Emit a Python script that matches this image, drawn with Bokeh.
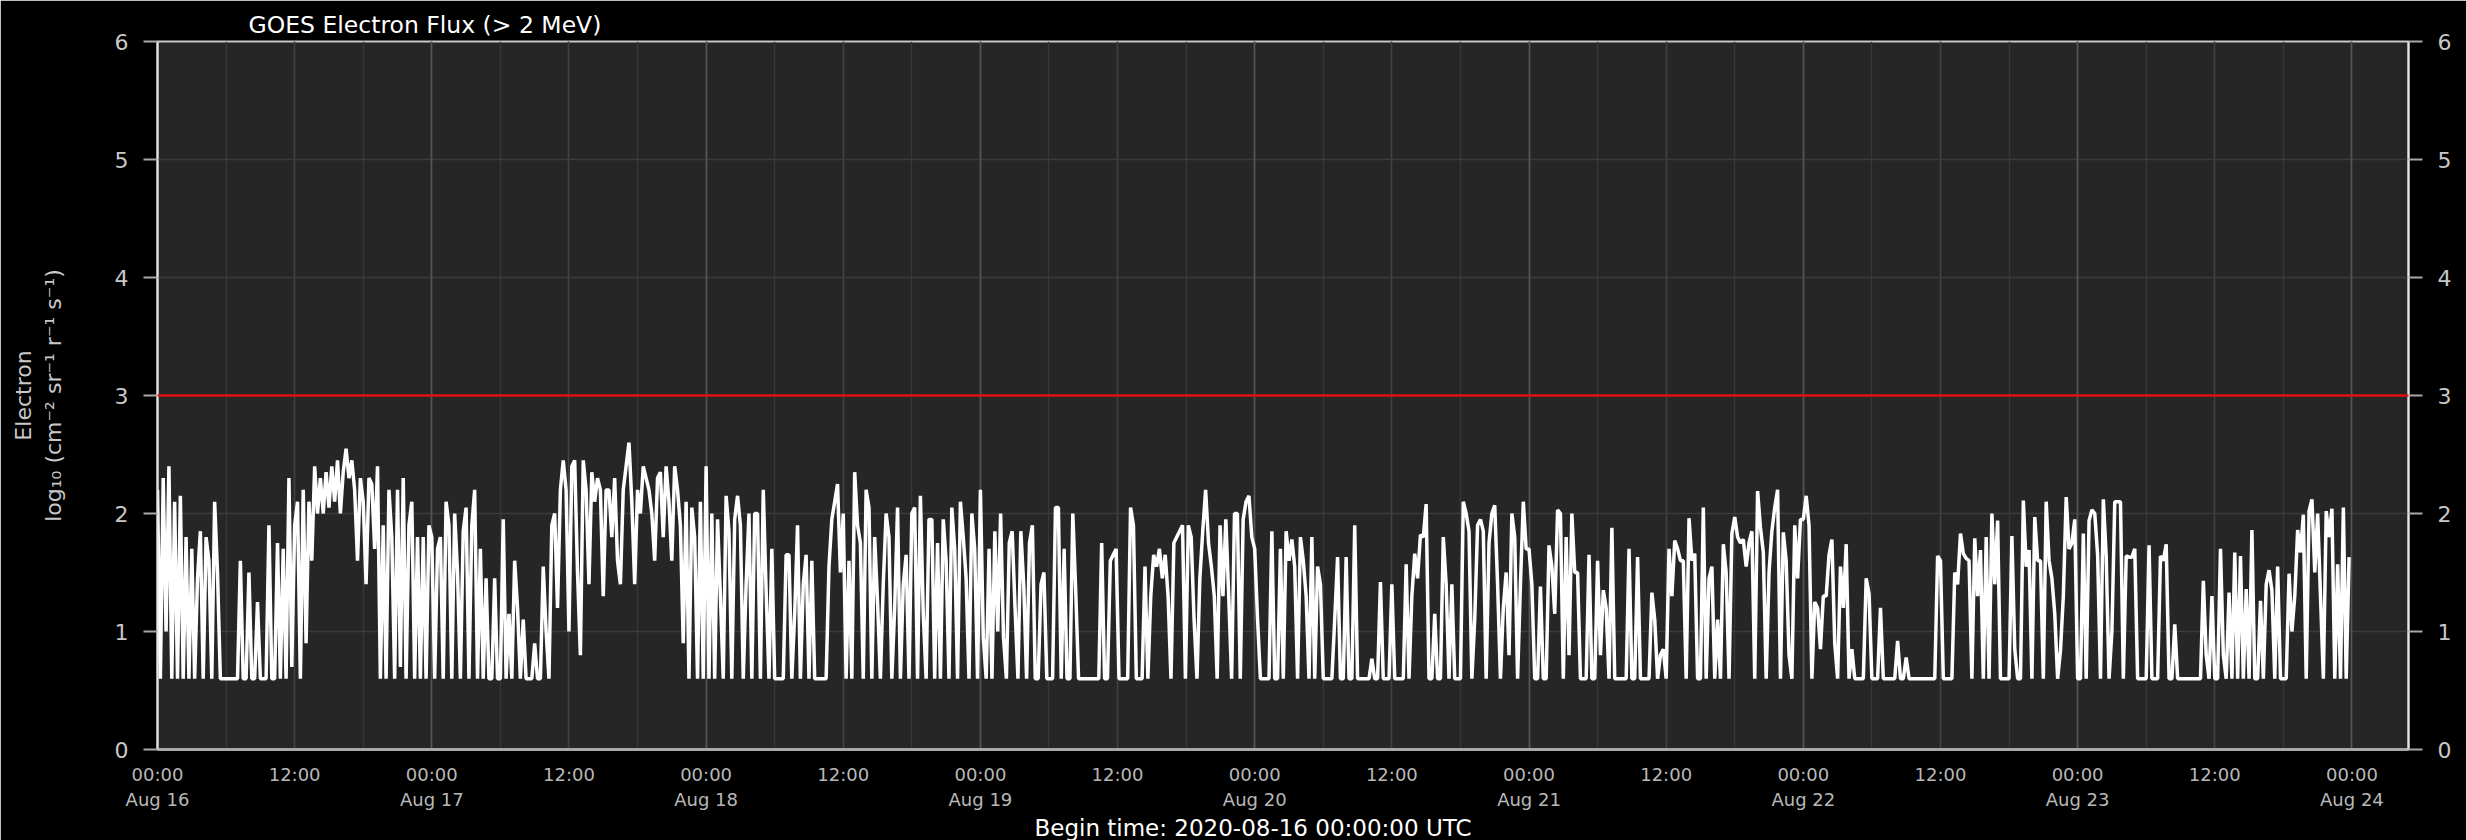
from datetime import datetime, timedelta, timezone

from bokeh.plotting import figure
from bokeh.models import FixedTicker, LinearAxis, Range1d, Span, Title, Grid
from bokeh.embed import file_html
from bokeh.resources import INLINE

# ---------------- data (log10 electron flux, 15-minute samples) -------------
day_starts = ["2020-08-16", "2020-08-17", "2020-08-18", "2020-08-19",
              "2020-08-20", "2020-08-21", "2020-08-22", "2020-08-23"]

flux_aug16 = [2.2, 0.6, 2.3, 1.0, 2.4, 0.6, 2.1, 0.6,
              2.15, 0.6, 1.8, 0.6,
              1.7, 0.6, 1.45, 1.85, 0.6, 1.8, 1.6, 0.6, 2.1, 1.5,
              0.6, 0.6, 0.6, 0.6, 0.6, 0.6, 0.6,
              1.6, 0.6, 0.6, 1.5, 0.6, 0.6, 1.25, 0.6, 0.6, 0.6, 1.9, 0.6, 0.6, 1.75, 0.6, 1.7, 0.6,
              2.3, 0.7, 1.9, 2.1, 0.6, 2.2, 0.9, 2.1, 1.6,
              2.4, 2.0, 2.3, 2.0, 2.35, 2.05, 2.4, 2.1, 2.45, 2.0, 2.35, 2.55, 2.3, 2.45, 2.2,
              1.6, 2.3, 2.1, 1.4, 2.3, 2.25, 1.7, 2.4,
              0.6, 1.9, 0.6, 2.2, 1.8, 0.6, 2.2, 0.7, 2.3, 0.6, 1.9, 2.1, 0.6, 1.8, 0.6, 1.8, 0.6, 1.9]

flux_aug17 = [1.8, 0.6, 1.7, 1.8, 0.6, 2.1, 1.9, 0.6, 2.0, 1.5, 0.6, 1.85, 2.05, 0.6, 1.9, 2.2, 0.6, 1.7, 0.6,
              1.45, 0.6, 0.6, 1.45, 0.6, 0.6, 1.95, 0.6, 1.15, 0.6, 1.6, 1.2, 0.6, 1.1, 0.6, 0.6, 0.6, 0.9,
              0.6, 0.6, 1.55, 1.0, 0.6,
              1.9, 2.0, 1.2, 2.2, 2.45, 2.2, 1.0, 2.4, 2.45, 1.5, 0.8, 2.45, 2.2, 1.4, 2.35, 2.1, 2.3, 2.2,
              1.3, 2.2,
              2.2, 1.8, 2.3, 1.6, 1.4, 2.2, 2.4, 2.6, 2.1, 1.4, 2.2, 2.0, 2.4, 2.3, 2.2, 2.0, 1.6, 2.3,
              2.35, 1.8, 2.4, 2.1, 1.6, 2.4, 2.2, 1.9, 0.9, 2.1, 0.6, 2.05, 1.8, 0.6, 2.1, 0.6]

flux_aug18 = [2.4, 0.6, 2.0, 0.6, 1.95, 1.3, 0.6, 2.15, 1.85, 0.6, 1.95, 2.15, 1.9, 0.6, 1.4, 2.0,
              0.6, 2.0, 2.0, 0.6, 2.2, 1.35, 0.6, 1.7, 0.6, 0.6, 0.6, 0.6, 1.65, 1.65, 0.6, 1.15,
              1.9, 0.6, 1.4, 1.65, 0.6, 1.6, 0.6, 0.6, 0.6, 0.6, 0.6, 1.55, 1.95, 2.1, 2.25, 1.5,
              2.0, 0.6, 1.6, 0.6, 2.35, 1.9, 1.75, 0.6, 2.2, 2.05, 0.6, 1.8, 1.25, 0.6, 1.4, 2.0,
              1.8, 0.6, 1.2, 2.05, 0.6, 1.4, 1.65, 0.6, 2.0, 2.05, 0.6, 2.15, 1.15, 0.6, 1.95, 1.95,
              0.6, 1.75, 0.6, 1.95, 1.6, 0.6, 2.05, 1.7, 0.6, 2.1, 1.8, 1.45, 0.6, 2.0, 1.7, 0.6]

flux_aug19 = [2.2, 0.95, 0.6, 1.7, 0.6, 1.85, 1.0, 2.0, 0.95, 0.6, 1.75, 1.85, 1.2, 0.6, 1.85, 1.4,
              0.6, 1.75, 1.9, 0.6, 0.6, 1.4, 1.5, 0.6, 0.6, 0.6, 2.05,
              2.05, 0.6, 1.7, 0.6, 0.6, 2.0, 1.35, 0.6, 0.6, 0.6, 0.6, 0.6, 0.6, 0.6, 0.6, 1.75,
              0.6, 0.6, 1.6, 1.65, 1.7, 0.6, 0.6, 0.6, 0.6, 2.05, 1.9, 0.6, 0.6, 0.6, 1.55, 0.6,
              1.3, 1.65, 1.55, 1.7, 1.45, 1.65, 1.3, 0.6, 1.75, 1.8, 1.85, 1.9, 0.6, 1.9, 1.8, 1.1,
              0.6, 1.45, 1.85, 2.2, 1.75, 1.55, 1.3, 0.6, 1.9, 1.3, 1.95, 1.3, 0.6, 2.0, 2.0, 0.6,
              1.95, 2.1, 2.15, 1.8]

flux_aug20 = [1.7, 1.1, 0.6, 0.6, 0.6, 0.6, 1.85, 0.6, 0.6, 1.7, 0.6, 1.85, 1.6, 1.78, 1.55, 0.6,
              1.8, 1.6, 1.3, 0.6, 1.8, 0.6, 1.55, 1.4, 0.6, 0.6, 0.6, 0.6, 1.1, 1.63, 0.6, 0.6,
              1.63, 0.6, 0.6, 1.9, 0.6, 0.6, 0.6, 0.6, 0.6, 0.77, 0.6, 0.6, 1.42, 0.6, 0.6, 0.6,
              1.4, 0.6, 0.6, 0.6, 0.6, 1.57, 0.6, 1.3, 1.66, 1.45, 1.82, 1.8, 2.08, 0.6, 0.6, 1.15,
              0.6, 0.6, 1.8, 1.4, 0.6, 1.4, 0.6, 0.6, 0.6, 2.1, 2.0, 1.85, 0.6, 1.1, 1.9, 1.95,
              1.85, 0.6, 1.75, 2.0, 2.07, 1.4, 0.6, 1.2, 1.5,
              0.8, 2.0, 1.8, 0.6, 1.4, 2.1, 1.7]

flux_aug21 = [1.7, 1.4, 0.6, 0.6, 1.38, 0.6, 0.6, 1.73, 1.55, 1.15, 2.03, 2.0, 0.6, 1.8, 0.8, 2.0,
              1.5, 1.5, 0.6, 0.6, 0.6, 1.65, 0.6, 0.6, 1.6, 0.8, 1.35, 1.2, 0.6, 1.88, 0.6, 0.6,
              0.6, 0.6, 0.6, 1.7, 0.6, 0.6, 1.63, 0.6, 0.6, 0.6, 0.6, 1.33, 1.1, 0.6, 0.8, 0.85,
              0.6, 1.7, 1.3, 1.77, 1.7, 1.6, 1.6, 0.6, 1.96, 1.6, 1.66, 0.6, 0.6, 2.05, 0.6, 1.45,
              1.55, 0.6, 1.1, 0.6, 1.74, 1.5, 0.6, 1.83, 1.97, 1.8, 1.75, 1.78, 1.55, 1.75, 1.85, 0.6,
              2.19, 1.88, 1.67, 0.6, 1.5, 1.85, 2.05, 2.2, 0.6, 1.84, 1.6, 0.8, 0.6, 1.9, 1.45, 1.95]

flux_aug22 = [1.95, 2.15, 1.9, 0.6, 1.25, 1.2, 0.85, 1.3, 1.3, 1.65, 1.78, 0.9, 0.6, 1.55, 1.2, 1.74,
              0.6, 0.85, 0.6, 0.6, 0.6, 0.6, 1.45, 1.32, 0.6, 0.6, 0.6, 1.2, 0.6, 0.6, 0.6, 0.6,
              0.6, 0.92, 0.6, 0.6, 0.78, 0.6, 0.6, 0.6, 0.6, 0.6, 0.6, 0.6, 0.6, 0.6, 0.6, 1.64,
              1.6, 0.6, 0.6, 0.6, 0.6, 1.5,
              1.4, 1.83, 1.66, 1.62, 1.6, 0.6, 1.79, 1.3, 1.69, 0.6, 1.8, 0.6, 2.0, 1.4, 1.94, 0.6,
              0.6, 0.6, 0.6, 1.81, 0.85, 0.6, 0.6, 2.11, 1.55, 1.69, 0.6, 1.97, 1.6, 1.6, 0.6, 2.1,
              1.6, 1.45, 1.15, 0.6, 0.84, 1.3, 2.14, 1.7, 1.75, 1.95]

flux_aug23 = [0.6, 0.6, 1.83, 0.6, 1.94, 2.03, 2.0, 1.65, 0.6, 2.12, 1.64, 0.6, 1.0, 2.1, 2.1, 2.1,
              0.6, 1.64, 1.63, 1.63, 1.7, 0.6, 0.6, 0.6, 0.6, 1.73, 0.6, 0.6, 0.6, 1.64, 1.6, 1.74,
              0.6, 0.6, 1.06, 0.6, 0.6, 0.6, 0.6, 0.6, 0.6, 0.6, 0.6, 0.6, 1.43, 0.8, 0.6, 1.3,
              0.6, 0.6, 1.7, 0.8, 0.6, 1.33, 0.6, 1.67, 0.6, 1.64, 0.6, 1.36, 0.6, 1.86, 0.6, 0.6,
              1.26, 0.6, 1.4, 1.52, 1.35, 0.6, 1.55, 0.6, 0.6, 0.6, 1.49, 1.0, 1.3, 1.86, 1.67, 1.99,
              0.6, 2.02, 2.12, 1.5, 2.0, 1.3, 0.6, 2.02, 1.8, 2.04, 0.6, 1.57, 0.6, 2.05, 0.6, 1.63]

daily_flux = [flux_aug16, flux_aug17, flux_aug18, flux_aug19,
              flux_aug20, flux_aug21, flux_aug22, flux_aug23]

threshold = 3
y_ticks = [0, 1, 2, 3, 4, 5, 6]
day_labels = ["Aug 16", "Aug 17", "Aug 18", "Aug 19", "Aug 20",
              "Aug 21", "Aug 22", "Aug 23", "Aug 24"]
title_text = "GOES Electron Flux (> 2 MeV)"
begin_text = "Begin time: 2020-08-16 00:00:00 UTC"
ylabel_text = "Electron\nlog\u2081\u2080 (cm\u207b\u00b2 sr\u207b\u00b9 r\u207b\u00b9 s\u207b\u00b9)"

# ---------------- build time series --------------------------------------------------------------
def to_ms(dt):
    return dt.timestamp() * 1000.0

xs, ys = [], []
for ds, vals in zip(day_starts, daily_flux):
    d0 = datetime.strptime(ds, "%Y-%m-%d").replace(tzinfo=timezone.utc)
    step = timedelta(hours=24) / len(vals)
    for j, v in enumerate(vals):
        xs.append(to_ms(d0 + j * step))
        ys.append(v)

t0 = datetime(2020, 8, 16, tzinfo=timezone.utc)
x_start = to_ms(t0)
x_end = to_ms(t0 + timedelta(days=8, hours=4, minutes=57))

major_ticks = [to_ms(t0 + timedelta(hours=12 * k)) for k in range(17)]
minor_ticks = [to_ms(t0 + timedelta(hours=6 * k)) for k in range(34)]
day_ticks = [to_ms(t0 + timedelta(days=k)) for k in range(9)]
overrides = {}
for k, t in enumerate(major_ticks):
    if k % 2 == 0:
        overrides[t] = "00:00\n" + day_labels[k // 2]
    else:
        overrides[t] = "12:00"

FONT = "DejaVu Sans"

p = figure(width=2466, height=840, x_axis_type="datetime",
           x_range=Range1d(x_start, x_end), y_range=Range1d(0, 6),
           output_backend="svg", toolbar_location=None,
           background_fill_color="#262626", border_fill_color="black",
           min_border_left=157, min_border_right=58, min_border_top=41, min_border_bottom=91)

p.outline_line_color = "#c8c8c8"
p.outline_line_width = 2

# title
p.title.text = title_text
p.title.align = "left"
p.title.offset = 91
p.title.text_color = "white"
p.title.text_font = FONT
p.title.text_font_size = "23.5px"
p.title.text_font_style = "normal"
p.title.standoff = 6

# x axis
xa = p.xaxis[0]
xa.ticker = FixedTicker(ticks=major_ticks, minor_ticks=minor_ticks)
xa.major_label_overrides = overrides
xa.major_label_text_color = "#b8b8b8"
xa.major_label_text_font = FONT
xa.major_label_text_font_size = "18px"
xa.major_label_standoff = 14
xa.major_tick_out = 0
xa.major_tick_in = 0
xa.minor_tick_out = 0
xa.minor_tick_in = 0
xa.axis_line_color = "#a8a8a8"
xa.axis_line_width = 3

# y axes
ya = p.yaxis[0]
ya.ticker = FixedTicker(ticks=y_ticks)
ya.axis_label = ylabel_text
ya.axis_label_text_color = "#c8c8c8"
ya.axis_label_text_font = FONT
ya.axis_label_text_font_size = "22px"
ya.axis_label_text_font_style = "normal"
ya.axis_label_standoff = 46

ra = LinearAxis(ticker=FixedTicker(ticks=y_ticks))
p.add_layout(ra, "right")
for ax in (ya, ra):
    ax.major_label_text_color = "#c8c8c8"
    ax.major_label_text_font = FONT
    ax.major_label_text_font_size = "22px"
    ax.major_label_standoff = 15
    ax.major_tick_out = 14
    ax.major_tick_in = 0
    ax.major_tick_line_color = "#a8a8a8"
    ax.major_tick_line_width = 2
    ax.minor_tick_out = 0
    ax.minor_tick_in = 0
    ax.axis_line_color = "#e6e6e6"
    ax.axis_line_width = 2

# grids
p.ygrid.grid_line_color = "#3c3c3c"
p.ygrid.grid_line_width = 1.5
p.xgrid.grid_line_color = "#424242"
p.xgrid.grid_line_width = 1.5
p.xgrid.minor_grid_line_color = "#373737"
p.xgrid.minor_grid_line_width = 1.5
p.add_layout(Grid(dimension=0, ticker=FixedTicker(ticks=day_ticks),
                  grid_line_color="#565656", grid_line_width=1.5))

# data
p.line(xs, ys, line_color="white", line_width=3.5)
p.add_layout(Span(location=threshold, dimension="width", line_color="#e01010", line_width=2.5))

# bottom caption
p.add_layout(Title(text=begin_text, align="left", offset=877, text_color="white",
                   text_font=FONT, text_font_size="23px", text_font_style="normal",
                   standoff=0), "below")

open("out.html", "w").write(file_html(p, INLINE))
